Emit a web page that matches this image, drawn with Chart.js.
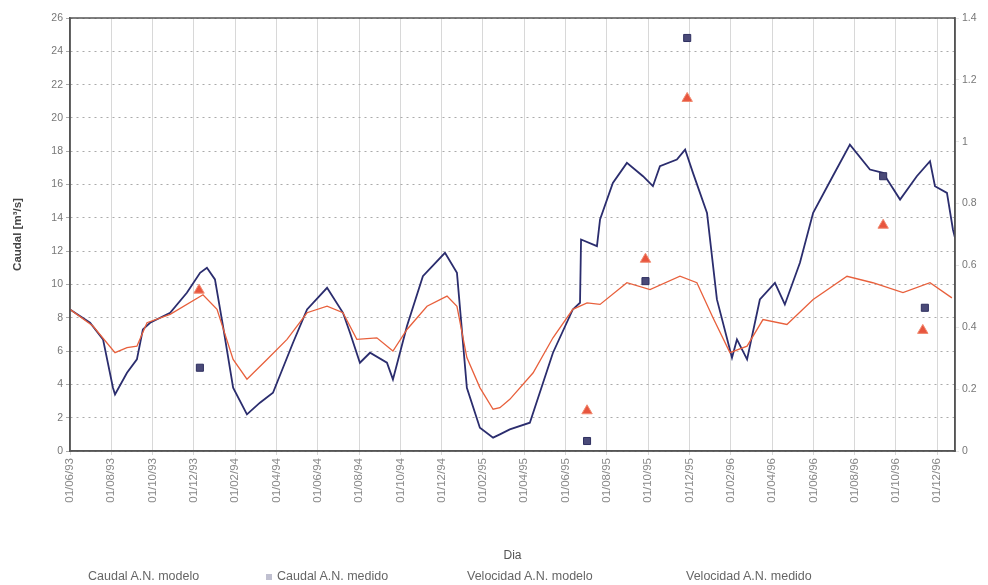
<!DOCTYPE html>
<html>
<head>
<meta charset="utf-8">
<script src="https://cdn.jsdelivr.net/npm/chart.js@4.4.1/dist/chart.umd.min.js"></script>
<style>
  body { margin: 0; background: #fff; font-family: 'Liberation Sans', Arial, sans-serif; }
  #wrap { position: relative; width: 988px; height: 585px; }
  #legend { position: absolute; left: 0; top: 569px; width: 988px; height: 16px; font-size: 12.5px; color: #666; }
  #legend span { position: absolute; white-space: nowrap; }
  #legend i { display: inline-block; margin-right: 5px; vertical-align: middle; opacity: 0.35; }
</style>
</head>
<body>
<div id="wrap">
  <canvas id="caudalChart"></canvas>
  <div id="legend"></div>
</div>
<script>
// tick labels of the date axis (every 2 months, x is in months from 01/06/93)
const dateLabels = ['01/06/93', '01/08/93', '01/10/93', '01/12/93', '01/02/94', '01/04/94',
    '01/06/94', '01/08/94', '01/10/94', '01/12/94', '01/02/95', '01/04/95', '01/06/95',
    '01/08/95', '01/10/95', '01/12/95', '01/02/96', '01/04/96', '01/06/96', '01/08/96',
    '01/10/96', '01/12/96'];

// Caudal A.N. modelo [m3/s]
const caudalModeloX = [0, 0.97, 1.6, 2.08, 2.18, 2.76, 3.24, 3.53, 3.88, 4.85, 5.66, 6.3, 6.63, 7.02,
    7.41, 7.9, 8.57, 9.2, 9.83, 10.8, 11.48, 12.45, 13.22, 13.56, 14.04, 14.53, 15.35, 15.64, 16.32,
    17.09, 18.16, 18.74, 19.22, 19.85, 20.49, 20.82, 21.3, 22.27, 22.91, 23.39, 24.35, 24.7, 24.75,
    25.52, 25.67, 26.29, 26.97, 27.75, 28.23, 28.57, 29.39, 29.79, 30.17, 30.85, 31.33, 32.06, 32.3,
    32.79, 33.41, 34.14, 34.62, 35.35, 35.99, 36.94, 37.77, 38.74, 39.37, 40.2, 41.01, 41.65, 41.89,
    42.47, 42.76, 42.86];
const caudalModeloY = [8.5, 7.7, 6.7, 3.8, 3.4, 4.7, 5.5, 7.3, 7.7, 8.3, 9.5, 10.7, 11.0, 10.3,
    7.5, 3.8, 2.2, 2.9, 3.5, 6.5, 8.5, 9.8, 8.3, 7.1, 5.3, 5.9, 5.3, 4.3, 7.5,
    10.5, 11.9, 10.7, 3.8, 1.4, 0.8, 1.0, 1.3, 1.7, 4.1, 5.9, 8.5, 8.9, 12.7,
    12.3, 13.9, 16.1, 17.3, 16.5, 15.9, 17.1, 17.5, 18.1, 16.7, 14.3, 9.1, 5.6, 6.7,
    5.5, 9.1, 10.1, 8.8, 11.3, 14.3, 16.5, 18.4, 16.9, 16.7, 15.1, 16.5, 17.4, 15.9,
    15.5, 13.3, 12.8];

// Caudal A.N. medido [m3/s]
const caudalMedidoX = [6.29, 25.04, 27.87, 29.89, 39.38, 41.4];
const caudalMedidoY = [5.0, 0.6, 10.2, 24.8, 16.5, 8.6];

// Velocidad A.N. modelo [m/s]
const velocidadModeloX = [0, 1.11, 2.18, 2.76, 3.24, 3.73, 4.85, 6.44, 7.12, 7.9, 8.57, 9.54, 10.51,
    11.48, 12.45, 13.22, 13.89, 14.86, 15.64, 16.32, 17.29, 18.26, 18.74, 19.22, 19.85, 20.49, 20.82,
    21.3, 22.43, 23.39, 24.35, 25.04, 25.67, 26.97, 28.09, 29.54, 30.36, 31.14, 31.96, 32.79, 33.56,
    34.72, 35.99, 37.63, 38.88, 40.34, 41.65, 42.71];
const velocidadModeloY = [0.458, 0.404, 0.318, 0.334, 0.339, 0.415, 0.442, 0.505, 0.458, 0.296, 0.232,
    0.296, 0.361, 0.447, 0.468, 0.447, 0.361, 0.366, 0.323, 0.393, 0.468, 0.501, 0.468, 0.302, 0.205,
    0.135, 0.14, 0.167, 0.253, 0.366, 0.458, 0.479, 0.474, 0.544, 0.522, 0.565, 0.544, 0.431, 0.318,
    0.339, 0.425, 0.409, 0.49, 0.565, 0.544, 0.512, 0.544, 0.495];

// Velocidad A.N. medido [m/s]
const velocidadMedidoX = [6.25, 25.04, 27.87, 29.89, 39.38, 41.3];
const velocidadMedidoY = [0.52, 0.13, 0.62, 1.14, 0.73, 0.39];

function toPoints(xs, ys) {
    return xs.map((x, i) => ({ x: x, y: ys[i] }));
}

// box around the plot area
const frame = {
    id: 'frame',
    afterDraw(chart) {
        const a = chart.chartArea, c = chart.ctx;
        c.save();
        c.strokeStyle = '#555';
        c.lineWidth = 1.5;
        c.strokeRect(a.left, a.top, a.right - a.left, a.bottom - a.top);
        c.restore();
    }
};

const ctx = document.getElementById('caudalChart').getContext('2d');
const chart = new Chart(ctx, {
    type: 'scatter',
    data: {
        datasets: [{
            label: 'Caudal A.N. modelo',
            data: toPoints(caudalModeloX, caudalModeloY),
            showLine: true,
            borderColor: '#2b2d6e',
            backgroundColor: '#2b2d6e',
            borderWidth: 1.8,
            pointRadius: 0,
            yAxisID: 'y',
            order: 3
        }, {
            label: 'Caudal A.N. medido',
            data: toPoints(caudalMedidoX, caudalMedidoY),
            borderColor: '#2f3060',
            backgroundColor: '#4a4a78',
            borderWidth: 1,
            pointStyle: 'rect',
            pointRadius: 5,
            yAxisID: 'y',
            order: 1
        }, {
            label: 'Velocidad A.N. modelo',
            data: toPoints(velocidadModeloX, velocidadModeloY),
            showLine: true,
            borderColor: '#e8603c',
            backgroundColor: '#e8603c',
            borderWidth: 1.3,
            pointRadius: 0,
            yAxisID: 'y1',
            order: 2
        }, {
            label: 'Velocidad A.N. medido',
            data: toPoints(velocidadMedidoX, velocidadMedidoY),
            borderColor: '#f08a70',
            backgroundColor: '#e8553e',
            borderWidth: 1,
            pointStyle: 'triangle',
            pointRadius: 6,
            yAxisID: 'y1',
            order: 0
        }]
    },
    options: {
        responsive: true,
        maintainAspectRatio: false,
        animation: false,
        layout: { padding: { top: 18, right: 0, left: 0, bottom: 0 } },
        plugins: {
            tooltip: { enabled: false },
            legend: { display: false }
        },
        scales: {
            x: {
                type: 'linear',
                min: 0,
                max: 42.86,
                // only the two-monthly ticks, not the extra one at the axis end
                afterBuildTicks: (scale) => {
                    scale.ticks = scale.ticks.filter(t => Math.abs(t.value / 2 - Math.round(t.value / 2)) < 0.001);
                },
                ticks: {
                    stepSize: 2,
                    minRotation: 90,
                    maxRotation: 90,
                    autoSkip: false,
                    color: '#888',
                    font: { family: 'Liberation Sans', size: 11.5 },
                    callback: (v) => dateLabels[Math.round(v / 2)] || ''
                },
                grid: { color: '#d8d8d8', lineWidth: 1, tickLength: 4 },
                border: { color: '#555', width: 1.5 },
                title: {
                    display: true,
                    text: 'Dia',
                    color: '#555',
                    font: { family: 'Liberation Sans', size: 12 },
                    padding: { top: 0, bottom: 22 }
                },
                afterFit: (scale) => { scale.height = 134; }
            },
            y: {
                position: 'left',
                min: 0,
                max: 26,
                ticks: {
                    stepSize: 2,
                    color: '#777',
                    font: { family: 'Liberation Sans', size: 10.5 }
                },
                grid: { color: '#aaa', tickLength: 4 },
                border: { color: '#555', width: 1.5, dash: [2, 4] },
                title: {
                    display: true,
                    text: 'Caudal [m³/s]',
                    color: '#444',
                    font: { family: 'Liberation Sans', size: 11.5, weight: 'bold' },
                    padding: { top: 11, bottom: 4 }
                },
                afterFit: (scale) => { scale.width = 70; }
            },
            y1: {
                position: 'right',
                min: 0,
                max: 1.4,
                ticks: {
                    stepSize: 0.2,
                    color: '#777',
                    font: { family: 'Liberation Sans', size: 10.5 },
                    callback: (v) => +v.toFixed(1)
                },
                grid: { drawOnChartArea: false, tickLength: 4 },
                border: { color: '#555', width: 1.5 },
                afterFit: (scale) => { scale.width = 33; }
            }
        }
    },
    plugins: [frame]
});

// legend below the axis title, laid out like the original sheet
const legendLeft = [88, 277, 467, 686];
const squareMark = '<i style="width:6px;height:6px;background:#4a4a78"></i>';
document.getElementById('legend').innerHTML = chart.data.datasets.map((ds, i) =>
    `<span style="left:${legendLeft[i] - (i === 1 ? 11 : 0)}px">${i === 1 ? squareMark : ''}${ds.label}</span>`
).join('');
</script>
</body>
</html>
